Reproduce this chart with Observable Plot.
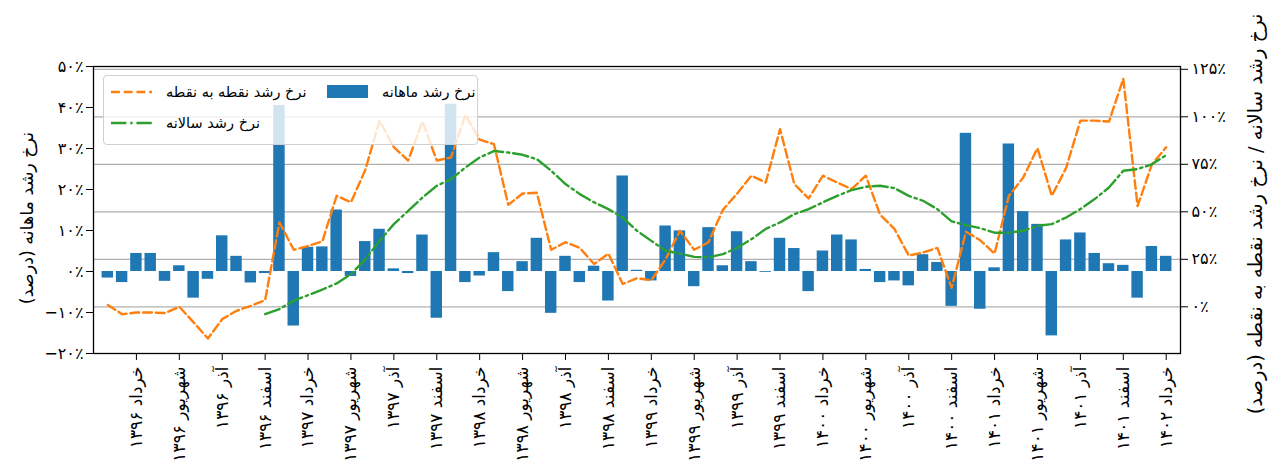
<!DOCTYPE html>
<html>
<head>
<meta charset="utf-8">
<script src="https://cdn.jsdelivr.net/npm/d3@7"></script>
<script src="https://cdn.jsdelivr.net/npm/@observablehq/plot@0.6"></script>
<style>
  html, body { margin: 0; padding: 0; background: #fff; }
  #wrap { position: relative; width: 1269px; height: 475px; overflow: hidden; font-family: "DejaVu Sans", sans-serif; }
  #legend { position: absolute; left: 103px; top: 75px; width: 375px; height: 70px; box-sizing: border-box;
            background: rgba(255,255,255,0.8); border: 1px solid #d0d0d0; border-radius: 4px; }
  .item { position: absolute; height: 20px; display: flex; align-items: center; }
  .item span { font-size: 14.5px; color: #000; white-space: nowrap; margin-left: 14px; }
</style>
</head>
<body>
<div id="wrap">
  <div id="chart"></div>
  <div id="legend"></div>
</div>
<script>
// ---- data ----
const monthly = [-1.6,-2.7,4.4,4.4,-2.4,1.4,-6.5,-1.9,8.7,3.7,-2.8,-0.5,
  40.5,-13.3,5.9,6.0,15.0,-1.2,7.3,10.3,0.65,-0.5,8.9,-11.4,
  40.8,-2.7,-1.1,4.6,-4.9,2.4,8.1,-10.2,3.7,-2.7,1.3,-7.2,
  23.3,0.3,-2.3,11.1,9.9,-3.7,10.7,1.4,9.7,2.4,-0.2,8.1,
  5.6,-4.9,5.0,8.9,7.7,0.5,-2.7,-2.3,-3.5,4.1,2.2,-8.5,
  33.7,-9.2,0.9,31.1,14.6,11.5,-15.7,7.7,9.4,4.4,1.9,1.5,
  -6.5,6.1,3.7];
const pointToPoint = [1.0,-3.9,-3.0,-3.0,-3.3,0,-8.2,-16.7,-6.5,-2.1,0.5,3.5,
  44.4,30,32,34.4,58.4,55,72,98,84,77,97.5,77,
  78.6,101,88,85.6,53.7,59.6,60,30,34,31,22.5,28,
  12,15,14,25,40,30,34,51,59.6,69,65.4,93.5,
  64.6,57,69,65.4,62,69,48.4,41,27,28.6,31,10,
  39.5,35,28,58.4,68,83.5,58.4,73,98,98,97.5,120,
  53,75,84];
const annual = [null,null,null,null,null,null,null,null,null,null,null,
  -3.9,-1.2,3.2,6.1,9.1,12.3,17.2,25,34.7,
  43.5,50.5,57.5,63.7,67.2,73.3,78.6,82,81.2,80,
  77.7,71.6,64.6,59.3,55,51.4,47,40,34.7,29.5,
  28,26.3,26,27.7,31,35.6,41,44.4,48.8,51.4,
  55,58.4,61.4,63.2,63.7,62.5,58.4,55.8,51.4,45,
  43,41.4,39,39,40,42.6,43.5,47,51.4,56.7,
  62.8,71.6,72.5,75,79.8];
const tickLabels = ["خرداد ۱۳۹۶","شهریور ۱۳۹۶","آذر ۱۳۹۶","اسفند ۱۳۹۶",
  "خرداد ۱۳۹۷","شهریور ۱۳۹۷","آذر ۱۳۹۷","اسفند ۱۳۹۷",
  "خرداد ۱۳۹۸","شهریور ۱۳۹۸","آذر ۱۳۹۸","اسفند ۱۳۹۸",
  "خرداد ۱۳۹۹","شهریور ۱۳۹۹","آذر ۱۳۹۹","اسفند ۱۳۹۹",
  "خرداد ۱۴۰۰","شهریور ۱۴۰۰","آذر ۱۴۰۰","اسفند ۱۴۰۰",
  "خرداد ۱۴۰۱","شهریور ۱۴۰۱","آذر ۱۴۰۱","اسفند ۱۴۰۱",
  "خرداد ۱۴۰۲"];
const leftTicks = [-20,-10,0,10,20,30,40,50];
const rightTicks = [0,25,50,75,100,125];
const leftLabel = "نرخ رشد ماهانه (درصد)";
const rightLabel = "نرخ رشد سالانه / نرخ رشد نقطه به نقطه (درصد)";
const seriesNames = {monthly: "نرخ رشد ماهانه", p2p: "نرخ رشد نقطه به نقطه", annual: "نرخ رشد سالانه"};
const colors = {monthly: "#1f77b4", p2p: "#ff7f0e", annual: "#2ca02c"};

// ---- helpers ----
const faDigits = "۰۱۲۳۴۵۶۷۸۹";
const toFa = s => String(s).replace(/\d/g, d => faDigits[+d]);
const pct = v => (v < 0 ? "\u2212" : "") + toFa(Math.abs(v)) + "٪";
// right axis (percent) mapped into left-axis units
const A = -8.61, B = 0.4634;
const toL = v => A + B * v;
const fromL = L => Math.round((L - A) / B);

const rows = monthly.map((m, i) => ({i, m, p: pointToPoint[i], g: annual[i]}));
const tickMonths = tickLabels.map((_, k) => 2 + 3 * k);
const FONT = "'DejaVu Sans', sans-serif";
const LW = 2.4;
const DASH = `${3.7*LW},${1.6*LW}`;
const DASHDOT = `${6.4*LW},${1.6*LW},${1*LW},${1.6*LW}`;

const chart = Plot.plot({
  width: 1269, height: 475,
  marginLeft: 93, marginRight: 89, marginTop: 66, marginBottom: 122,
  x: {type: "linear", domain: [-1, 75]},
  y: {domain: [-20, 50]},
  style: {fontFamily: FONT, fontSize: "14px", background: "white", color: "black"},
  marks: [
    Plot.gridY(rightTicks.map(toL), {stroke: "#b0b0b0", strokeOpacity: 1, strokeWidth: 1.2}),
    Plot.rect(rows, {x1: d => d.i - 0.4, x2: d => d.i + 0.4, y1: d => 0, y2: "m", fill: colors.monthly}),
    Plot.line(rows, {x: "i", y: d => toL(d.p), stroke: colors.p2p, strokeWidth: LW, strokeDasharray: DASH}),
    Plot.line(rows.filter(d => d.g != null), {x: "i", y: d => toL(d.g), stroke: colors.annual, strokeWidth: LW, strokeDasharray: DASHDOT}),
    Plot.frame({stroke: "black", strokeWidth: 1.3}),
    Plot.axisY(leftTicks, {anchor: "left", label: null, tickFormat: pct, tickSize: 7, tickPadding: 3, fontSize: 16}),
    Plot.axisY(rightTicks.map(toL), {anchor: "right", label: null, tickFormat: L => pct(fromL(L)), tickSize: 7, tickPadding: 4, fontSize: 16}),
    Plot.axisX(tickMonths, {anchor: "bottom", label: null, tickFormat: d => tickLabels[(d - 2) / 3], tickRotate: -90,
      textAnchor: "end", lineAnchor: "middle", tickSize: 7, tickPadding: 6, fontSize: 17}),
    Plot.text([leftLabel], {frameAnchor: "left", dx: -66, dy: 8, rotate: -90, fontSize: 17.5, textAnchor: "middle", lineAnchor: "middle"}),
    Plot.text([rightLabel], {frameAnchor: "right", dx: 75, dy: 4, rotate: -90, fontSize: 19.5, textAnchor: "middle", lineAnchor: "middle"})
  ]
});
document.getElementById("chart").appendChild(chart);

// ---- legend (inside plot area, semi-transparent like matplotlib) ----
const legend = document.getElementById("legend");
const items = [
  {key: "p2p", left: 7, top: 6, kind: "dash"},
  {key: "annual", left: 7, top: 37, kind: "dashdot"},
  {key: "monthly", left: 223, top: 6, kind: "rect"}
];
for (const it of items) {
  const div = document.createElement("div");
  div.className = "item";
  div.style.left = it.left + "px";
  div.style.top = it.top + "px";
  const c = colors[it.key];
  let sw;
  if (it.kind === "rect") sw = `<svg width="41" height="20"><rect x="0" y="3" width="41" height="13" fill="${c}"/></svg>`;
  else sw = `<svg width="41" height="20"><line x1="0" x2="41" y1="10" y2="10" stroke="${c}" stroke-width="${LW}" stroke-dasharray="${it.kind === "dash" ? DASH : DASHDOT}"/></svg>`;
  div.innerHTML = sw + `<span>${seriesNames[it.key]}</span>`;
  legend.appendChild(div);
}
</script>
</body>
</html>
